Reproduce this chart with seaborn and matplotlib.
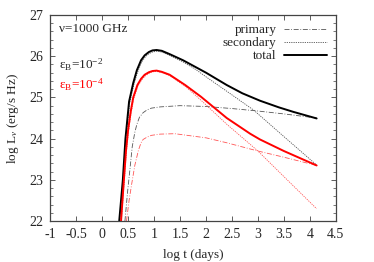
import numpy as np
import pandas as pd
import seaborn as sns
import matplotlib
matplotlib.use("Agg")
import matplotlib.pyplot as plt
from matplotlib.ticker import MultipleLocator, FormatStrFormatter

sns.set_style("ticks")
plt.rcParams["font.family"] = ["Liberation Serif", "DejaVu Serif"]
plt.rcParams["mathtext.fontset"] = "custom"
plt.rcParams["mathtext.rm"] = "Liberation Serif"
plt.rcParams["mathtext.it"] = "Liberation Serif:italic"

# eps_B = 1e-2 (black)
t_tot_a = [0.33, 0.40, 0.45, 0.52, 0.60, 0.67, 0.75, 0.82, 0.9, 0.97, 1.05, 1.15, 1.3, 1.56, 2.0, 2.4, 2.7, 3.04, 3.4, 3.68, 4.13]
L_tot_a = [22.0, 23.0, 24.0, 24.9, 25.35, 25.66, 25.9, 26.02, 26.1, 26.14, 26.15, 26.13, 26.05, 25.9, 25.6, 25.3, 25.1, 24.92, 24.76, 24.65, 24.49]
t_sec_a = [0.34, 0.41, 0.46, 0.53, 0.61, 0.68, 0.76, 0.83, 0.9, 0.97, 1.05, 1.15, 1.3, 1.56, 1.8, 2.0, 2.4, 2.92, 3.5, 4.13]
L_sec_a = [22.0, 23.0, 24.0, 24.85, 25.3, 25.6, 25.85, 25.98, 26.06, 26.1, 26.12, 26.1, 26.02, 25.86, 25.68, 25.5, 25.15, 24.69, 24.05, 23.36]
t_pri_a = [0.44, 0.49, 0.54, 0.58, 0.63, 0.67, 0.72, 0.79, 0.87, 0.95, 1.12, 1.5, 2.0, 2.5, 3.0, 3.5, 4.13]
L_pri_a = [22.0, 22.7, 23.3, 23.8, 24.15, 24.35, 24.52, 24.63, 24.7, 24.74, 24.77, 24.8, 24.78, 24.73, 24.67, 24.6, 24.5]

# eps_B = 1e-4 (red)
t_tot_b = [0.365, 0.42, 0.46, 0.50, 0.55, 0.60, 0.68, 0.75, 0.82, 0.9, 0.97, 1.05, 1.15, 1.3, 1.6, 1.9, 2.4, 2.85, 3.04, 3.5, 4.13]
L_tot_b = [22.0, 23.0, 23.7, 24.2, 24.65, 25.0, 25.3, 25.45, 25.55, 25.61, 25.64, 25.65, 25.62, 25.55, 25.3, 25.02, 24.5, 24.12, 23.98, 23.7, 23.35]
t_sec_b = [0.37, 0.43, 0.47, 0.51, 0.56, 0.61, 0.69, 0.76, 0.83, 0.9, 0.97, 1.05, 1.15, 1.3, 1.6, 1.8, 2.0, 2.4, 3.0, 3.5, 4.13]
L_sec_b = [22.0, 23.0, 23.7, 24.18, 24.62, 24.97, 25.27, 25.42, 25.52, 25.58, 25.62, 25.63, 25.6, 25.53, 25.27, 25.05, 24.82, 24.35, 23.7, 23.08, 22.3]
t_pri_b = [0.47, 0.52, 0.57, 0.63, 0.70, 0.75, 0.79, 0.87, 0.95, 1.12, 1.4, 2.0, 2.4, 3.0, 3.5, 4.13]
L_pri_b = [22.0, 22.5, 22.9, 23.35, 23.72, 23.9, 23.98, 24.04, 24.08, 24.11, 24.12, 24.02, 23.9, 23.7, 23.55, 23.35]

fig = plt.figure(figsize=(3.74, 2.62), dpi=100)
ax = fig.add_axes([0.134, 0.156, 0.764, 0.787])

def draw(t, L, color, ls, lw, label=None):
    df = pd.DataFrame({"t": t, "L": L})
    sns.lineplot(data=df, x="t", y="L", ax=ax, color=color, linestyle=ls,
                 linewidth=lw, label=label, sort=False, estimator=None)

grey = "#555555"
pink = "#ff5555"
draw(t_pri_a, L_pri_a, grey, (0, (6, 2, 1, 2)), 0.6, "primary")
draw(t_sec_a, L_sec_a, grey, (0, (1.5, 1.2)), 0.6, "secondary")
draw(t_tot_a, L_tot_a, "black", "-", 1.4, "total")
draw(t_pri_b, L_pri_b, pink, (0, (6, 2, 1, 2)), 0.6)
draw(t_sec_b, L_sec_b, pink, (0, (1.5, 1.2)), 0.6)
draw(t_tot_b, L_tot_b, "red", "-", 1.4)

ax.set_xlim(-1, 4.5)
ax.set_ylim(22, 27)
ax.xaxis.set_major_locator(MultipleLocator(0.5))
ax.xaxis.set_major_formatter(FormatStrFormatter("%g"))
ax.yaxis.set_major_locator(MultipleLocator(1))
ax.yaxis.set_major_formatter(FormatStrFormatter("%g"))
ax.yaxis.set_minor_locator(MultipleLocator(0.2))
ax.tick_params(which="both", direction="in", top=True, right=True, labelsize=10, color="#444444")
ax.tick_params(which="major", length=3.5, width=0.6, pad=5)
ax.tick_params(which="minor", length=2, width=0.5)
for s in ax.spines.values():
    s.set_color("#444444")
    s.set_linewidth(0.9)

ax.set_xlabel("log t (days)", fontsize=9.5, labelpad=6)
ax.set_ylabel(r"log L$_{\nu}$ (erg/s Hz)", fontsize=9.5, labelpad=6)

ax.text(0.03, 0.93, "ν=1000 GHz", transform=ax.transAxes, fontsize=9.5, va="center")
ax.text(0.03, 0.76, r"ε$_{\rm B}$=10$^{-2}$", transform=ax.transAxes, fontsize=9.5, va="center")
ax.text(0.03, 0.66, r"ε$_{\rm B}$=10$^{-4}$", transform=ax.transAxes, fontsize=9.5, va="center", color="red")

ax.legend(loc="upper right", frameon=False, markerfirst=False, fontsize=9.5,
          handlelength=3.2, handletextpad=0.6, labelspacing=0.05, borderaxespad=0.3)

fig.savefig("out.png", dpi=100)
